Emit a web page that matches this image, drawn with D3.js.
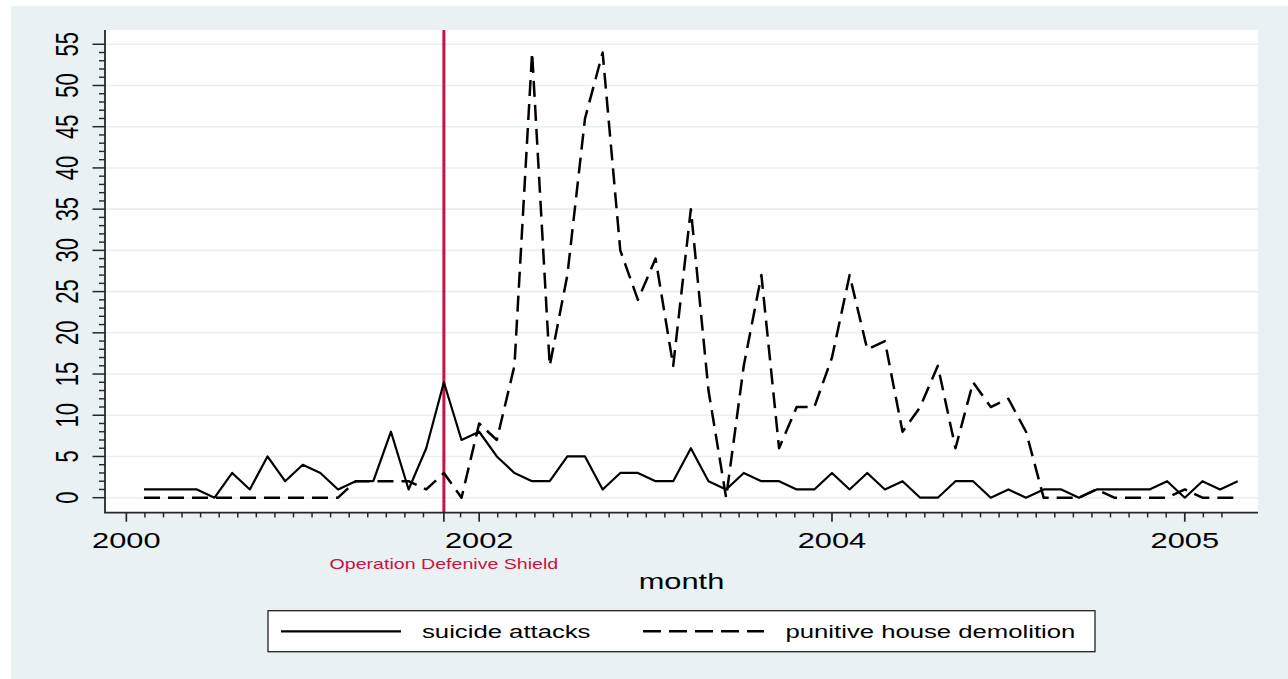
<!DOCTYPE html>
<html><head><meta charset="utf-8">
<script src="https://cdn.jsdelivr.net/npm/d3@7"></script>
<style>
body{margin:0;background:#fff}
svg{display:block}
text{font-family:"Liberation Sans",Arial,Helvetica,sans-serif}
</style></head>
<body><svg id="c" width="1288" height="679"></svg>
<script>
// ---- data ----
const monthIndex = d3.range(63);
const suicideAttacks = [1,1,1,1,0,3,1,5,2,4, 3,1,2,2,8,1,6,14,7,8, 5,3,2,2,5,5,1,3,3,2, 2,6,2,1,3,2,2,1,1,3, 1,3,1,2,0,0,2,2,0,1, 0,1,1,0,1,1,1,1,2,0, 2,1,2];
const houseDemolitions = [0,0,0,0,0,0,0,0,0,0, 0,0,2,2,2,2,1,3,0,9, 7,16,54,16,27,46,54,30,24,29, 16,35,13,0,16,27,6,11,11,17, 27,18,19,8,11,16,6,14,11,12, 8,0,0,0,1,0,0,0,0,1, 0,0,0];
const seriesNames = ["suicide attacks", "punitive house demolition"];
const xTickValues = [-1, 19, 39, 59];
const xTickLabels = ["2000", "2002", "2004", "2005"];
const yTickValues = [0,5,10,15,20,25,30,35,40,45,50,55];
const eventMonth = 17;
const eventLabel = "Operation Defenive Shield";
const xTitle = "month";

// ---- layout / style ----
const SX = 1.4;            // horizontal text stretch of the original
const L = 105, R = 1258, T = 30, B = 512.7;
const RED = "#cc1242", BG = "#e9f1f3", GRID = "#e7eff1", AX = "#262626";

const svg = d3.select("#c");
const x = d3.scaleLinear().domain([-2.21, 63.15]).range([L, R]);
const y = d3.scaleLinear().domain([-1.82, 56.73]).range([B, T]);

svg.append("rect").attr("x", 11).attr("y", 6).attr("width", 1277).attr("height", 673).attr("fill", BG);
svg.append("rect").attr("x", L).attr("y", T).attr("width", R - L).attr("height", B - T).attr("fill", "#fff");

// gridlines
svg.append("g").selectAll("line").data(yTickValues).join("line")
  .attr("x1", L).attr("x2", R).attr("y1", d => y(d)).attr("y2", d => y(d))
  .attr("stroke", GRID).attr("stroke-width", 1.6);

// event line
svg.append("line").attr("x1", x(eventMonth)).attr("x2", x(eventMonth)).attr("y1", T).attr("y2", B)
  .attr("stroke", RED).attr("stroke-width", 3);

// series
const line = d3.line().x((d, i) => x(monthIndex[i])).y(d => y(d));
svg.append("path").datum(houseDemolitions).attr("d", line).attr("fill", "none")
  .attr("stroke", "#000").attr("stroke-width", 2.5).attr("stroke-dasharray", "16,8").attr("stroke-linejoin", "round");
svg.append("path").datum(suicideAttacks).attr("d", line).attr("fill", "none")
  .attr("stroke", "#000").attr("stroke-width", 2.2).attr("stroke-linejoin", "round");

// axes lines
svg.append("line").attr("x1", L).attr("x2", L).attr("y1", T).attr("y2", B).attr("stroke", AX).attr("stroke-width", 1.8);
svg.append("line").attr("x1", L - 0.9).attr("x2", R).attr("y1", B).attr("y2", B).attr("stroke", AX).attr("stroke-width", 1.8);

// y ticks
const yMinor = d3.range(0, 56).filter(v => v % 5 !== 0);
svg.append("g").selectAll("line").data(yMinor).join("line")
  .attr("x1", L).attr("x2", L - 6).attr("y1", d => y(d)).attr("y2", d => y(d))
  .attr("stroke", AX).attr("stroke-width", 1.4);
svg.append("g").selectAll("line").data(yTickValues).join("line")
  .attr("x1", L).attr("x2", L - 12.5).attr("y1", d => y(d)).attr("y2", d => y(d))
  .attr("stroke", AX).attr("stroke-width", 1.5);
svg.append("g").selectAll("text").data(yTickValues).join("text")
  .attr("transform", d => `translate(78,${y(d)}) scale(${SX},1) rotate(-90)`)
  .attr("text-anchor", "middle").attr("font-size", 22).attr("fill", "#000")
  .text(d => d);

// x ticks
const step = (xTickValues[1] - xTickValues[0]) / 19;
const xMinor = [];
for (let k = 1; xTickValues[0] + k * step < xTickValues[3] + 2.5 * step; k++) {
  if (k % 19 !== 0 && k !== 17) xMinor.push(xTickValues[0] + k * step);
}
svg.append("g").selectAll("line").data(xMinor).join("line")
  .attr("x1", d => x(d)).attr("x2", d => x(d)).attr("y1", B).attr("y2", B + 4.7)
  .attr("stroke", AX).attr("stroke-width", 1.5);
svg.append("g").selectAll("line").data(xTickValues.concat([eventMonth])).join("line")
  .attr("x1", d => x(d)).attr("x2", d => x(d)).attr("y1", B).attr("y2", B + 9)
  .attr("stroke", AX).attr("stroke-width", 1.7);
svg.append("g").selectAll("text").data(xTickValues).join("text")
  .attr("transform", d => `translate(${x(d)},548) scale(${SX},1)`)
  .attr("text-anchor", "middle").attr("font-size", 22).attr("fill", "#000")
  .text((d, i) => xTickLabels[i]);

// event label
svg.append("text").attr("transform", `translate(${x(eventMonth)},569) scale(${SX},1)`)
  .attr("text-anchor", "middle").attr("font-size", 14).attr("fill", RED).text(eventLabel);

// x title
svg.append("text").attr("transform", `translate(${(L + R) / 2},589) scale(${SX},1)`)
  .attr("text-anchor", "middle").attr("font-size", 22).attr("fill", "#000").text(xTitle);

// legend
const lg = svg.append("g");
lg.append("rect").attr("x", 268).attr("y", 610.7).attr("width", 827).attr("height", 41)
  .attr("fill", "#fff").attr("stroke", "#222").attr("stroke-width", 1.3);
const legendItems = [
  {name: seriesNames[0], x0: 281, x1: 401, tx: 422, dash: null, w: 2.2},
  {name: seriesNames[1], x0: 643, x1: 764, tx: 785.5, dash: "18,8", w: 2.5}
];
legendItems.forEach(it => {
  lg.append("line").attr("x1", it.x0).attr("x2", it.x1).attr("y1", 631.3).attr("y2", 631.3)
    .attr("stroke", "#000").attr("stroke-width", it.w).attr("stroke-dasharray", it.dash);
  lg.append("text").attr("transform", `translate(${it.tx},638) scale(1.39,1)`)
    .attr("font-size", 18.5).attr("fill", "#000").text(it.name);
});
</script></body></html>
